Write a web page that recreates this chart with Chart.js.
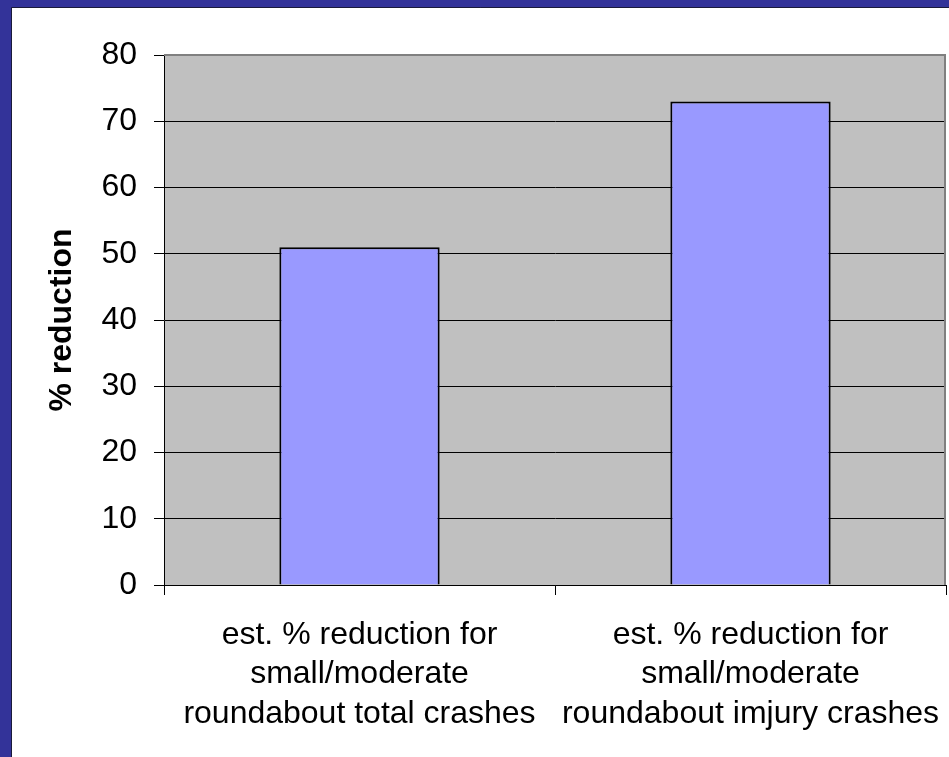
<!DOCTYPE html>
<html>
<head>
<meta charset="utf-8">
<script src="https://cdn.jsdelivr.net/npm/chart.js@4/dist/chart.umd.min.js"></script>
<style>
html,body{margin:0;padding:0;background:#fff;overflow:hidden}
#wrap{width:949px;height:757px}
canvas{display:block}
</style>
</head>
<body>
<div id="wrap"><canvas id="c" width="949" height="757"></canvas></div>
<script>
const categories = [
  ["est. % reduction for", "small/moderate", "roundabout total crashes"],
  ["est. % reduction for", "small/moderate", "roundabout imjury crashes"]
];
const reductionValues = [51, 73];
const yMin = 0;
const yMax = 80;
const yStep = 10;
const yAxisTitle = "% reduction";

const framePlugin = {
  id: 'frame',
  beforeDraw(chart) {
    const ctx = chart.ctx;
    const W = chart.width, H = chart.height;
    ctx.save();
    ctx.fillStyle = '#333399';
    ctx.fillRect(0, 0, W, H);
    ctx.fillStyle = '#ffffff';
    ctx.fillRect(12, 8, W - 12, H - 8);
    ctx.strokeStyle = '#1a1a3a';
    ctx.lineWidth = 1;
    ctx.beginPath();
    ctx.moveTo(11.5, H);
    ctx.lineTo(11.5, 7.5);
    ctx.lineTo(W, 7.5);
    ctx.stroke();
    const a = chart.chartArea;
    ctx.fillStyle = '#C0C0C0';
    ctx.fillRect(a.left, a.top, a.right - a.left, a.bottom - a.top);
    ctx.restore();
  },
  afterDatasetsDraw(chart) {
    const ctx = chart.ctx;
    const a = chart.chartArea;
    ctx.save();
    ctx.strokeStyle = '#808080';
    ctx.lineWidth = 2;
    ctx.beginPath();
    ctx.moveTo(a.left, a.top);
    ctx.lineTo(a.right - 1, a.top);
    ctx.lineTo(a.right - 1, a.bottom);
    ctx.stroke();
    ctx.restore();
  }
};

new Chart(document.getElementById('c'), {
  type: 'bar',
  data: {
    labels: categories,
    datasets: [{
      data: reductionValues,
      backgroundColor: '#9999FF',
      borderColor: '#000000',
      borderWidth: 2,
      barPercentage: 0.41,
      categoryPercentage: 1.0
    }]
  },
  options: {
    responsive: false,
    animation: false,
    devicePixelRatio: 1,
    layout: { padding: { left: 30, top: 55, right: 3, bottom: 0 } },
    plugins: { legend: { display: false }, tooltip: { enabled: false } },
    scales: {
      x: {
        afterFit(scale) { scale.height = 172; scale.paddingLeft = 0; scale.paddingRight = 0; },
        grid: { drawOnChartArea: false, drawTicks: true, tickLength: 10, tickColor: '#000', offset: true },
        border: { color: '#000', width: 1 },
        ticks: {
          autoSkip: false, maxRotation: 0, minRotation: 0,
          color: '#000', padding: 20,
          font: { family: '"Liberation Sans", Arial, sans-serif', size: 32, lineHeight: 1.235 }
        }
      },
      y: {
        min: yMin, max: yMax,
        afterFit(scale) { scale.width = 134; scale.paddingTop = 0; scale.paddingBottom = 0; },
        grid: {
          color: (c) => (c.tick && c.tick.value === yMax) ? '#808080' : '#000000',
          lineWidth: 1, tickLength: 10, tickColor: '#000'
        },
        border: { color: '#000', width: 1 },
        ticks: {
          stepSize: yStep, color: '#000', padding: 17,
          font: { family: '"Liberation Sans", Arial, sans-serif', size: 32 }
        },
        title: {
          display: true, text: yAxisTitle, color: '#000',
          padding: { top: 13, bottom: 0 },
          font: { family: '"Liberation Sans", Arial, sans-serif', size: 32, weight: 'bold', lineHeight: 1.2 }
        }
      }
    }
  },
  plugins: [framePlugin]
});
</script>
</body>
</html>
